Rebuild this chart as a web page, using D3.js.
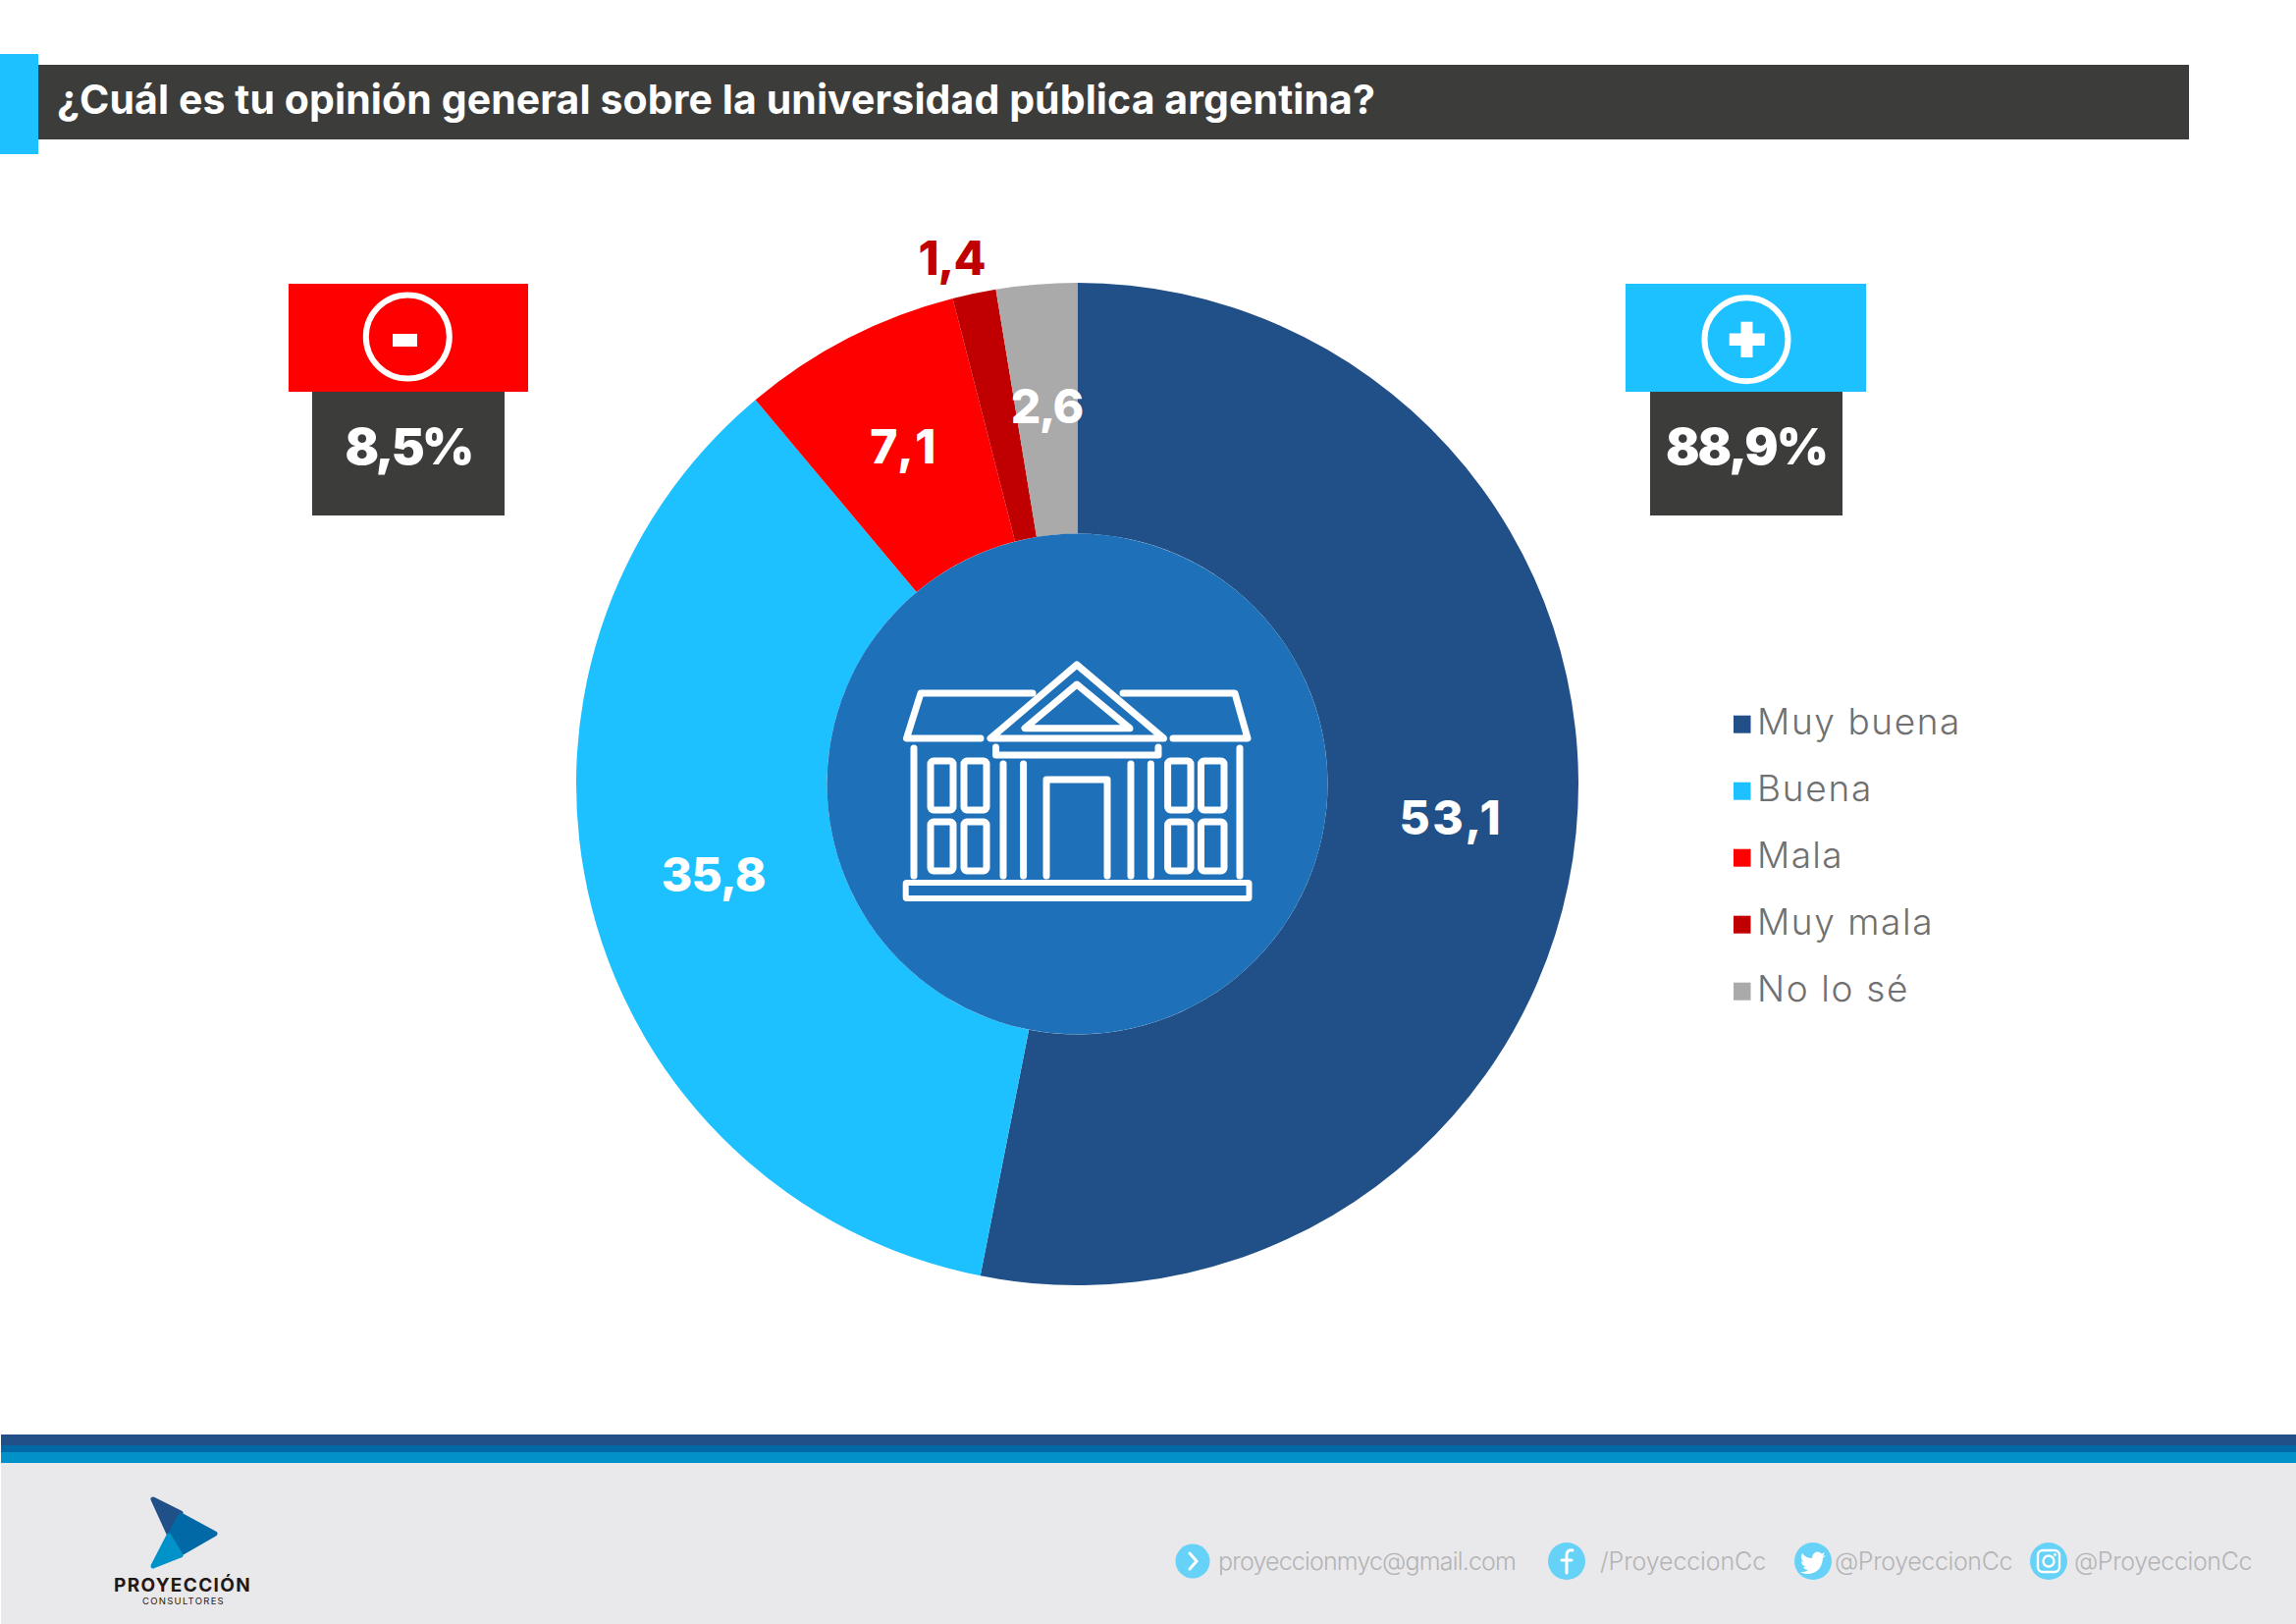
<!DOCTYPE html>
<html lang="es">
<head>
<meta charset="utf-8">
<title>Opinión sobre la universidad pública argentina</title>
<script src="https://cdn.jsdelivr.net/npm/d3@7/dist/d3.min.js"></script>
<style>
html,body{margin:0;padding:0;background:#fff}
svg{display:block}
text{font-family:Inter,"Open Sans",sans-serif}
</style>
</head>
<body>
<svg id="chart" width="2339" height="1654" viewBox="0 0 2339 1654"></svg>
<script>
const titleText = "¿Cuál es tu opinión general sobre la universidad pública argentina?";
const categories = ["Muy buena", "Buena", "Mala", "Muy mala", "No lo sé"];
const values = [53.1, 35.8, 7.1, 1.4, 2.6];
const sliceColors = ["#215088", "#1dc1ff", "#ff0000", "#c00000", "#aaaaaa"];
const negativeTotal = "8,5%";
const positiveTotal = "88,9%";
const contacts = ["proyeccionmyc@gmail.com", "/ProyeccionCc", "@ProyeccionCc", "@ProyeccionCc"];

const svg = d3.select("#chart");
const fmt = v => String(v).replace(".", ",");

function fit(sel, width) {
  const n = sel.text().length;
  const w = sel.node().getComputedTextLength();
  sel.style("letter-spacing", ((width - w) / n) + "px");
  return sel;
}
function rect(p, x0, y0, x1, y1, fill) {
  return p.append("rect").attr("x", x0).attr("y", y0).attr("width", x1 - x0).attr("height", y1 - y0).attr("fill", fill);
}

/* header */
rect(svg, 39, 66, 2230, 142, "#3c3c3b");
rect(svg, 0, 55, 39, 157, "#1dc1ff");
fit(svg.append("text").attr("x", 58).attr("y", 116).attr("fill", "#fff")
  .attr("font-size", 41).attr("font-weight", 700).text(titleText), 1343);

/* donut */
const cx = 1097.5, cy = 798.5, outerR = 510.5, innerR = 255, outsideR = 549;
const color = d3.scaleOrdinal(categories, sliceColors);
const pie = d3.pie().sort(null).value(d => d.value);
const arc = d3.arc().innerRadius(innerR).outerRadius(outerR);
const rows = categories.map((c, i) => ({ category: c, value: values[i] }));
const arcs = pie(rows);
const donut = svg.append("g").attr("transform", `translate(${cx},${cy})`);
donut.selectAll("path.slice").data(arcs).join("path").attr("class", "slice")
  .attr("d", arc).attr("fill", d => color(d.data.category));
donut.append("circle").attr("r", innerR).attr("fill", "#1e71b8");

const outsideArc = d3.arc().innerRadius(outsideR).outerRadius(outsideR);
donut.selectAll("text.value").data(arcs).join("text").attr("class", "value")
  .each(function (d) {
    const small = d.data.value < 2;
    const [x, y] = small ? outsideArc.centroid(d) : arc.centroid(d);
    d3.select(this).attr("x", small ? x - 15 : x).attr("y", small ? y + 19 : y + 14)
      .attr("fill", small ? color(d.data.category) : "#fff");
  })
  .attr("text-anchor", "middle").attr("font-size", 48).attr("font-weight", 800)
  .text(d => fmt(d.data.value))
  .each(function (d) { fit(d3.select(this), d.data.value >= 10 ? 106 : (d.data.value < 2 ? 68 : 73)); });

/* building icon */
const icon = svg.append("g").attr("fill", "none").attr("stroke", "#fff")
  .attr("stroke-width", 7).attr("stroke-linecap", "round").attr("stroke-linejoin", "round");
[
  "M1052 706H938L923.5 752H999",
  "M1144 706H1258L1271 752H1195",
  "M1097 677L1009 752H1185.5Z",
  "M1097 697L1044 741.7H1151Z",
  "M1014.5 761V769H1180V761",
  "M931 762V892", "M1263 762V892",
  "M1022 778V892", "M1042.6 778V892", "M1152 778V892", "M1172.4 778V892",
  "M1066 892V794H1128V892"
].forEach(d => icon.append("path").attr("d", d));
[[948, 971], [982, 1005], [1189.6, 1213], [1223.5, 1247]].forEach(([a, b]) => {
  [[775, 825], [837, 887]].forEach(([t, u]) => {
    icon.append("rect").attr("x", a).attr("y", t).attr("width", b - a).attr("height", u - t).attr("rx", 3);
  });
});
icon.append("rect").attr("x", 922.7).attr("y", 899).attr("width", 349.8).attr("height", 16).attr("rx", 1).attr("stroke-width", 6);

/* totals */
function totalBox(x0, x1, bx0, bx1, fill, cxI, cyI, label, labelW, glyph) {
  rect(svg, x0, 289, x1, 399, fill);
  rect(svg, bx0, 399, bx1, 525, "#3c3c3b");
  svg.append("circle").attr("cx", cxI).attr("cy", cyI).attr("r", 42.5)
    .attr("fill", "none").attr("stroke", "#fff").attr("stroke-width", 6);
  glyph();
  fit(svg.append("text").attr("x", (bx0 + bx1) / 2).attr("y", 473).attr("text-anchor", "middle")
    .attr("fill", "#fff").attr("font-size", 51).attr("font-weight", 900).text(label), labelW);
}
totalBox(294, 538, 318, 514, "#ff0000", 415.3, 343, negativeTotal, 129, () => {
  rect(svg, 400, 340, 425, 353, "#fff");
});
totalBox(1656, 1901, 1681, 1877, "#1dc1ff", 1779, 345.7, positiveTotal, 164, () => {
  rect(svg, 1761.7, 339.5, 1797.7, 352, "#fff");
  rect(svg, 1773.5, 327.7, 1785.5, 364, "#fff");
});

/* legend */
const legendY = d3.scalePoint().domain(categories).range([737.7, 1009.7]);
const legend = svg.append("g").selectAll("g").data(categories).join("g")
  .attr("transform", d => `translate(0,${legendY(d)})`);
legend.append("rect").attr("x", 1766).attr("y", -9).attr("width", 17.5).attr("height", 18).attr("fill", d => color(d));
const legendWidths = [208, 118, 88, 180, 155];
legend.append("text").attr("x", 1790).attr("y", 10).attr("fill", "#707070")
  .attr("font-size", 37).attr("font-weight", 350).text(d => d)
  .each(function (d, i) { fit(d3.select(this), legendWidths[i]); });

/* footer */
rect(svg, 1, 1461, 2339, 1472, "#215088");
rect(svg, 1, 1472, 2339, 1479, "#0069a6");
rect(svg, 1, 1479, 2339, 1490, "#0092c8");
rect(svg, 1, 1490, 2339, 1654, "#e9e9eb");

/* logo */
const logo = svg.append("g").attr("stroke-linejoin", "round").attr("stroke-width", 5);
logo.append("path").attr("d", "M156 1527L184 1541L172 1562Z").attr("fill", "#215088").attr("stroke", "#215088");
logo.append("path").attr("d", "M184 1543L219 1562L186 1581L174 1562Z").attr("fill", "#0069a6").attr("stroke", "#0069a6");
logo.append("path").attr("d", "M172 1564L184 1584L156 1595Z").attr("fill", "#0092c8").attr("stroke", "#0092c8");
fit(svg.append("text").attr("x", 116).attr("y", 1620.5).attr("fill", "#231815")
  .attr("font-size", 19).attr("font-weight", 700).text("PROYECCIÓN"), 140);
fit(svg.append("text").attr("x", 145).attr("y", 1633.5).attr("fill", "#231815")
  .attr("font-size", 9.5).attr("font-weight", 400).text("CONSULTORES"), 84);

/* contacts */
const contactX = [1241, 1630, 1869, 2113];
const contactW = [303, 169, 181, 181];
const circleX = [1215, 1596, 1847, 2087];
const circleR = [17.5, 19, 19, 19];
contacts.forEach((t, i) => {
  svg.append("circle").attr("cx", circleX[i]).attr("cy", 1590).attr("r", circleR[i]).attr("fill", "#66d2f7");
  fit(svg.append("text").attr("x", contactX[i]).attr("y", 1598.5).attr("fill", "#b4b4b6")
    .attr("font-size", 25).attr("font-weight", 300).text(t), contactW[i]);
});
const g0 = svg.append("g").attr("fill", "none").attr("stroke", "#fff").attr("stroke-width", 3).attr("stroke-linecap", "round");
g0.append("path").attr("d", "M1212 1582L1219 1590L1212 1598");
g0.append("path").attr("d", "M1602 1579C1597 1578 1596 1581 1596 1585V1602M1591 1589H1601");
svg.append("path").attr("fill", "#fff")
  .attr("d", "M1859 1581C1857 1582 1856 1583 1855 1582C1853 1580 1850 1580 1848 1582C1846 1584 1846 1586 1846 1587C1842 1587 1838 1585 1836 1582C1834 1586 1835 1589 1838 1591L1835 1590C1835 1593 1837 1595 1840 1596H1837C1838 1598 1840 1599 1842 1599C1840 1601 1837 1601 1834 1601C1843 1606 1856 1602 1857 1587C1858 1586 1859 1585 1860 1584L1857 1585Z");
const g3 = svg.append("g").attr("fill", "none").attr("stroke", "#fff").attr("stroke-width", 2.4);
g3.append("rect").attr("x", 2076).attr("y", 1579).attr("width", 22).attr("height", 22).attr("rx", 5);
g3.append("circle").attr("cx", 2087).attr("cy", 1590).attr("r", 5.5);
svg.append("circle").attr("cx", 2093.5).attr("cy", 1583.5).attr("r", 1.4).attr("fill", "#fff");
</script>
</body>
</html>
